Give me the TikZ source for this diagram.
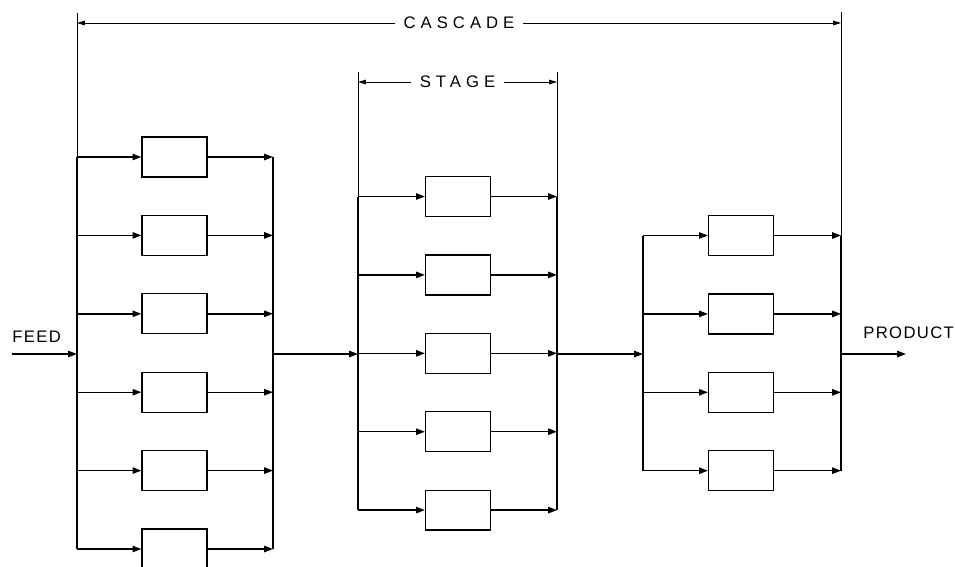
\documentclass[tikz,border=0pt]{standalone}
\usepackage{fontspec}
\newfontfamily\widefont[LetterSpace=30]{Liberation Sans}
\newfontfamily\tagfont[LetterSpace=8]{Liberation Sans}
\usepackage{tikz}
\usetikzlibrary{arrows.meta,positioning,calc}
\newcommand{\UnitBox}[3]{%
  \node[unit] (#1) at ({#2},{#3}) {};
}

\begin{document}
\begin{tikzpicture}[x=0.02cm, y=-0.02cm,
  unit/.style={draw, line width=0.7pt, minimum width=1.3cm, minimum height=0.8cm, inner sep=0pt},
  bus/.style={line width=0.8pt},
  ext/.style={line width=0.45pt},
  flow/.style={line width=0.8pt, -{Triangle[length=5pt,width=3.6pt]}},
  dim/.style={line width=0.45pt, {Triangle[length=4.5pt,width=2.6pt]}-{Triangle[length=4.5pt,width=2.6pt]}},
  wide/.style={font=\widefont\fontsize{9.5}{11}\selectfont, fill=white, inner xsep=5pt, inner ysep=1pt},
  tag/.style={font=\tagfont\fontsize{9.5}{11}\selectfont, inner sep=0pt}]
  \useasboundingbox (0,0) rectangle (955,566);

  % buses of the three stages
  \coordinate (ain)  at (77,354);
  \coordinate (aout) at (273,354);
  \coordinate (bin)  at (358,354);
  \coordinate (bout) at (557,354);
  \coordinate (cin)  at (643,354);
  \coordinate (cout) at (841,354);

  % units
  \foreach \i in {1,...,6} {\UnitBox{a\i}{174.5}{157+78.4*(\i-1)}}
  \foreach \i in {1,...,5} {\UnitBox{b\i}{458}{196.5+78.4*(\i-1)}}
  \foreach \i in {1,...,4} {\UnitBox{c\i}{741}{235.5+78.4*(\i-1)}}

  % branches
  \foreach \s/\n in {a/6,b/5,c/4} {
    \foreach \i in {1,...,\n} {
      \draw[flow] (\s in |- \s\i) -- (\s\i.west);
      \draw[flow] (\s\i.east) -- (\s out |- \s\i);
    }
    \draw[bus] (\s in |- \s1) -- (\s in |- \s\n);
    \draw[bus] (\s out |- \s1) -- (\s out |- \s\n);
  }

  % dimension extension lines
  \coordinate (casl) at (77,13);
  \coordinate (casr) at (841,12);
  \coordinate (stgl) at (358,72);
  \coordinate (stgr) at (557,72);
  \draw[ext] (casl) -- (ain |- a1);
  \draw[ext] (casr) -- (cout |- c1);
  \draw[ext] (stgl) -- (bin |- b1);
  \draw[ext] (stgr) -- (bout |- b1);

  % stage to stage
  \draw[flow] (aout) -- (bin);
  \draw[flow] (bout) -- (cin);

  % feed and product
  \node[tag, anchor=west] (feed) at (12,337) {FEED};
  \coordinate (feedin) at (12,354);
  \draw[flow] (feedin) -- (ain);
  \node[tag, anchor=west] (prod) at (863,333) {PRODUCT};
  \coordinate (prodout) at (906,354);
  \draw[flow] (cout) -- (prodout);

  % dimensions
  \draw[dim] (casl |- 0,23) -- node[wide] (cas) {CASCADE} (casr |- 0,23);
  \draw[dim] (stgl |- 0,82) -- node[wide] (stg) {STAGE} (stgr |- 0,82);
\end{tikzpicture}
\end{document}
